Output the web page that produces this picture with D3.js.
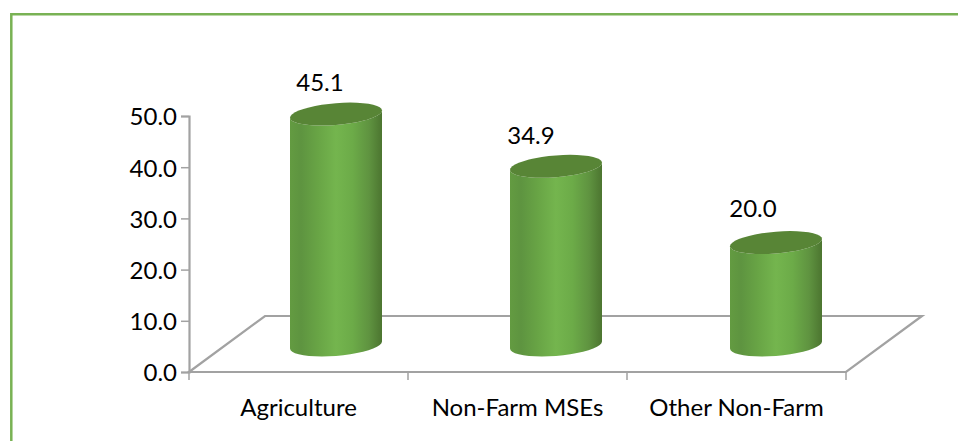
<!DOCTYPE html>
<html>
<head>
<meta charset="utf-8">
<script src="https://cdn.jsdelivr.net/npm/d3@7"></script>
<style>
  html, body { margin: 0; padding: 0; background: #fff; }
  svg { display: block; }
  text { font-family: Lato, sans-serif; fill: #000; }
</style>
</head>
<body>
<svg id="chart" width="958" height="441"></svg>
<script>
var categories = ["Agriculture", "Non-Farm MSEs", "Other Non-Farm"];
var values = [45.1, 34.9, 20.0];
var yTicks = [0, 10, 20, 30, 40, 50];

var width = 958;
var height = 441;
var fontSize = "24px";

var svg = d3.select("#chart");

// Green frame, only top and left sides
svg.append("path")
  .attr("d", "M11.3," + height + "V14.2H" + width)
  .attr("fill", "none")
  .attr("stroke", "#79b254")
  .attr("stroke-width", 2.5);

var x = d3.scaleBand().domain(categories).range([189, 846]);
var y = d3.scaleLinear().domain([0, 50]).range([372, 116]);
// Bars stand half way back on the floor, a bit wider spaced than the front edge
var xBar = d3.scaleBand().domain(categories).range([226, 886]);

// Depth of the 3D floor
var depthX = 76;
var depthY = -56;
var axisColor = "#a2a2a2";

var defs = svg.append("defs");
var grad = defs.append("linearGradient").attr("id", "barGrad");
grad.selectAll("stop")
  .data([
    [0, "#639b41"], [0.12, "#5e9440"], [0.3, "#68a445"], [0.5, "#74b54e"],
    [0.68, "#6cab48"], [0.86, "#5f9340"], [1, "#4c7530"]
  ])
  .enter()
  .append("stop")
  .attr("offset", function (d) { return d[0]; })
  .attr("stop-color", function (d) { return d[1]; });

// Floor
svg.append("path")
  .attr("d", "M" + x.range()[0] + "," + y(0) +
    "L" + (x.range()[0] + depthX) + "," + (y(0) + depthY) +
    "H" + (x.range()[1] + depthX) +
    "L" + x.range()[1] + "," + y(0) + "Z")
  .attr("fill", "none")
  .attr("stroke", axisColor)
  .attr("stroke-width", 2.2);

// Left axis
var yAxis = svg.append("g")
  .attr("transform", "translate(189,0)")
  .call(d3.axisLeft(y).tickValues(yTicks).tickSize(8).tickPadding(4)
    .tickFormat(d3.format(".1f")));
yAxis.selectAll("line").attr("stroke", axisColor).attr("stroke-width", 1.5);
yAxis.select(".domain").attr("stroke", axisColor).attr("stroke-width", 2.2);
yAxis.selectAll("text")
  .attr("dy", "0.37em")
  .style("font-family", "Lato, sans-serif")
  .style("font-size", fontSize)
  .attr("fill", "#000");

// Bottom axis
var xAxis = svg.append("g")
  .attr("transform", "translate(0," + y(0) + ")")
  .call(d3.axisBottom(x).tickSize(0).tickPadding(27));
xAxis.select(".domain").remove();
xAxis.selectAll("text")
  .style("font-family", "Lato, sans-serif")
  .style("font-size", fontSize)
  .attr("fill", "#000");
svg.append("g").selectAll("line")
  .data(d3.range(categories.length + 1))
  .enter()
  .append("line")
  .attr("x1", function (d) { return x.range()[0] + d * x.step(); })
  .attr("x2", function (d) { return x.range()[0] + d * x.step(); })
  .attr("y1", y(0))
  .attr("y2", y(0) + 8)
  .attr("stroke", axisColor)
  .attr("stroke-width", 1.5);

// Cylinders, the ellipses are tilted so the right side sits higher
var rx = 46;
var tilt = 3.6;
var ry = 10.9;
var angles = d3.range(0, 1.0001, 0.05).map(function (t) { return t * Math.PI; });

function edge(cx, cy, sign) {
  return angles.map(function (a) {
    return [cx + rx * Math.cos(a), cy - tilt * Math.cos(a) + sign * ry * Math.sin(a)];
  });
}
var line = d3.line();

var bars = svg.append("g").selectAll("g")
  .data(categories)
  .enter()
  .append("g");

function centerX(d) { return xBar(d) + xBar.bandwidth() / 2; }
function baseY() { return y(0) + depthY / 2 + 1; }
function topY(d, i) { return y(values[i]) + depthY / 2 + 1; }

bars.append("path")
  .attr("d", function (d, i) {
    var cx = centerX(d);
    var bottom = edge(cx, baseY(), 1);
    var top = edge(cx, topY(d, i), 1).reverse();
    return line(bottom.concat(top)) + "Z";
  })
  .attr("fill", "url(#barGrad)");

bars.append("path")
  .attr("d", function (d, i) {
    var cx = centerX(d);
    var cy = topY(d, i);
    return line(edge(cx, cy, 1).concat(edge(cx, cy, -1).reverse())) + "Z";
  })
  .attr("fill", "#588536");

// Value labels were moved by hand in the original
var labelNudge = [[-16, -31], [-25, -31], [-23, -34]];
bars.append("text")
  .attr("x", function (d, i) { return centerX(d) + labelNudge[i][0]; })
  .attr("y", function (d, i) { return topY(d, i) + labelNudge[i][1]; })
  .attr("dy", ".35em")
  .attr("text-anchor", "middle")
  .style("font-size", fontSize)
  .text(function (d, i) { return d3.format(".1f")(values[i]); });
</script>
</body>
</html>
